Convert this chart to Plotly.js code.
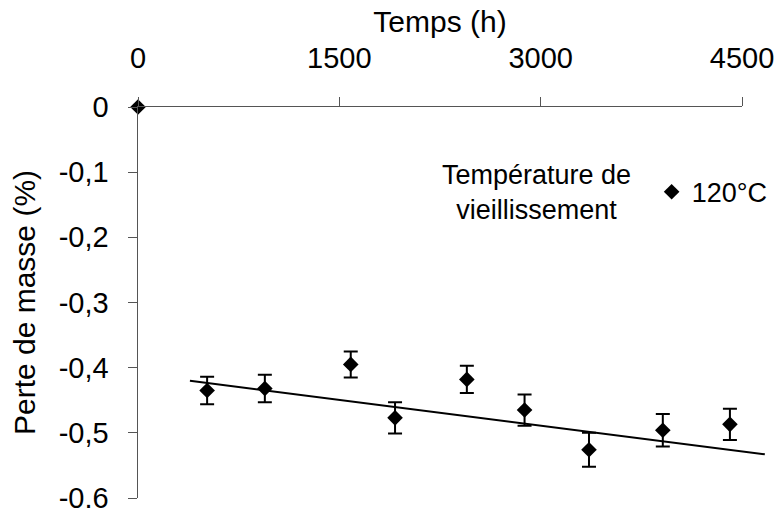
<!DOCTYPE html>
<html>
<head>
<meta charset="utf-8">
<script src="https://cdn.plot.ly/plotly-3.0.1.min.js"></script>
<style>html,body{margin:0;padding:0;background:#fff;}#chart{width:779px;height:515px;}</style>
</head>
<body>
<div id="chart"></div>
<script>
// Data
const timeH    = [0, 515, 945, 1585, 1915, 2450, 2880, 3360, 3910, 4410];
const massLoss = [0, -0.435, -0.432, -0.395, -0.477, -0.418, -0.465, -0.526, -0.496, -0.487];
const errMass  = [0, 0.021, 0.021, 0.020, 0.024, 0.021, 0.024, 0.026, 0.025, 0.024];
const trendX   = [387, 4670];
const trendY   = [-0.420, -0.533];
const xTickVals = [0, 1500, 3000, 4500];
const xTickText = ['0', '1500', '3000', '4500'];
const yTickVals = [0, -0.1, -0.2, -0.3, -0.4, -0.5, -0.6];
const yTickText = ['0', '-0,1', '-0,2', '-0,3', '-0,4', '-0,5', '-0.6'];
const seriesName = '120°C';
const legendTitle = 'Température de<br>vieillissement';

const FONT = 'Liberation Sans, Arial, sans-serif';
const FS_TICK = 29;
const FS_TITLE = 30;
const FS_LEG = 27;
const axisFrac = 604 / 631; // part of the plot width used by the 0-4500 axis
const xMax = xTickVals[xTickVals.length - 1];

const data = [
  {
    x: trendX, y: trendY, type: 'scatter', mode: 'lines',
    line: {color: '#000', width: 2}, showlegend: false, hoverinfo: 'skip',
    xaxis: 'x2', yaxis: 'y2'
  },
  {
    x: timeH, y: massLoss, type: 'scatter', mode: 'markers', name: seriesName,
    marker: {symbol: 'diamond', size: 12, color: '#000'},
    error_y: {type: 'data', array: errMass, visible: true, color: '#000', thickness: 2, width: 7},
    cliponaxis: false
  }
];

const layout = {
  width: 779, height: 515,
  margin: {l: 138, r: 10, t: 107, b: 17, autoexpand: false},
  paper_bgcolor: '#fff', plot_bgcolor: 'rgba(0,0,0,0)',
  font: {family: FONT, size: FS_TICK, color: '#000'},
  showlegend: true,
  legend: {
    x: 0.814, y: 0.782, xanchor: 'left', yanchor: 'middle',
    bgcolor: 'rgba(0,0,0,0)', borderwidth: 0, itemsizing: 'trace',
    font: {family: FONT, size: FS_LEG, color: '#000'}
  },
  annotations: [{
    text: legendTitle, xref: 'paper', yref: 'paper', x: 0.6323, y: 0.782,
    xanchor: 'center', yanchor: 'middle', align: 'center', showarrow: false,
    font: {family: FONT, size: FS_LEG, color: '#000'}
  }],
  xaxis: {
    domain: [0, axisFrac], range: [0, xMax], side: 'top', anchor: 'y',
    tickmode: 'array', tickvals: xTickVals, ticktext: xTickText,
    ticks: 'outside', ticklen: 9, tickwidth: 1, tickcolor: '#555',
    showline: true, linecolor: '#555', linewidth: 1.5,
    showgrid: false, zeroline: false, ticklabelstandoff: 17,
    ticklabeloverflow: 'allow', automargin: false,
    tickfont: {family: FONT, size: FS_TICK, color: '#000'},
    title: {text: 'Temps (h)', font: {family: FONT, size: FS_TITLE, color: '#000'}, standoff: 0}
  },
  yaxis: {
    domain: [0, 1], range: [-0.6, 0], anchor: 'x',
    tickmode: 'array', tickvals: yTickVals, ticktext: yTickText,
    ticks: 'outside', ticklen: 9, tickwidth: 1, tickcolor: '#555',
    showline: true, linecolor: '#555', linewidth: 1.5,
    showgrid: false, zeroline: false, ticklabelstandoff: 13,
    ticklabeloverflow: 'allow', automargin: false,
    tickfont: {family: FONT, size: FS_TICK, color: '#000'},
    title: {text: 'Perte de masse (%)', font: {family: FONT, size: FS_TITLE, color: '#000'}, standoff: 14}
  },
  xaxis2: {
    domain: [0, 1], range: [0, xMax / axisFrac], anchor: 'y2',
    visible: false, showgrid: false, zeroline: false, fixedrange: true
  },
  yaxis2: {
    domain: [0, 1], range: [-0.6, 0], anchor: 'x2',
    visible: false, showgrid: false, zeroline: false, fixedrange: true
  }
};

Plotly.newPlot('chart', data, layout, {staticPlot: true, displayModeBar: false});
</script>
</body>
</html>
